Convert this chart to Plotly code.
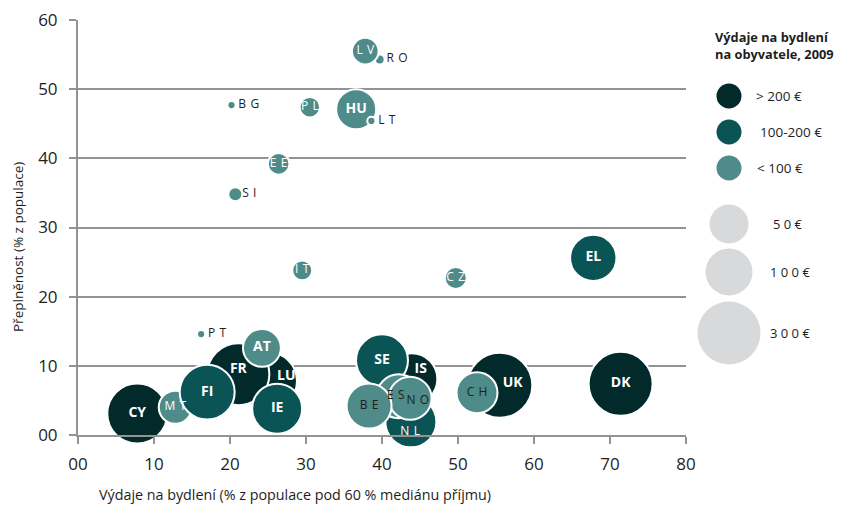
import plotly.graph_objects as go

# ---------------- data ----------------
zeme = ["RO", "LV", "BG", "PL", "HU", "LT", "EE", "SI", "IT", "CZ", "EL", "PT",
        "CY", "LU", "FR", "MT", "FI", "AT", "IE", "IS", "SE", "NL", "ES", "NO",
        "BE", "UK", "CH", "DK"]
vydaje_pod60 = [39.7, 37.8, 20.2, 30.5, 36.6, 38.6, 26.4, 20.7, 29.5, 49.7, 67.8, 16.2,
                7.8, 25.0, 21.1, 12.8, 17.0, 24.2, 26.2, 43.9, 40.0, 43.8, 42.2, 43.7,
                38.3, 55.5, 52.5, 71.4]
preplnenost = [54.3, 55.5, 47.7, 47.4, 47.1, 45.4, 39.2, 34.8, 23.8, 22.7, 25.6, 14.6,
               3.1, 7.8, 8.8, 4.0, 6.2, 12.6, 3.8, 8.1, 10.8, 1.9, 5.6, 5.3,
               4.2, 7.2, 6.1, 7.4]
vydaje_eur = [0.3, 12, 0.15, 4.5, 55, 0.15, 5.5, 1.1, 4.1, 5.9, 95, 0.15,
              249, 219, 282, 27, 180, 45, 126, 140, 146, 136, 78, 72,
              85, 336, 60, 317]
kategorie = ["<100", "<100", "<100", "<100", "<100", "<100", "<100", "<100", "<100", "<100", "100-200", "<100",
             ">200", ">200", ">200", "<100", "100-200", "<100", "100-200", ">200", "100-200", "100-200", "<100", "<100",
             "<100", ">200", "<100", ">200"]

kat_popisky = ["> 200 €", "100-200 €", "< 100 €"]
kat_klice = [">200", "100-200", "<100"]
velikost_legenda = [50, 100, 300]
velikost_popisky = ["5 0 €", "1 0 0 €", "3 0 0 €"]

x_ticks = [0, 10, 20, 30, 40, 50, 60, 70, 80]
x_ticktext = ["00", "10", "20", "30", "40", "50", "60", "70", "80"]
y_ticks = [0, 10, 20, 30, 40, 50, 60]
y_ticktext = ["00", "10", "20", "30", "40", "50", "60"]

# ---------------- style ----------------
W, H = 851, 505
ML, MR, MT, MB = 78, 0, 20, 70
PW, PH = W - ML - MR, H - MT - MB
MAIN_RIGHT = 686

BARVY = {">200": "#032a2b", "100-200": "#0b5456", "<100": "#4f8b89"}
SEDA = "#c8c9cb"
OSA = "#939393"
TEXT = "#1e1e1e"
FONT = "Open Sans"
SP = " \u200a"  # letter spacing used for the spaced country codes

BOLD = {"EL", "CY", "LU", "FR", "FI", "AT", "IE", "IS", "SE", "UK", "DK", "HU"}
SPACED_WHITE = {"LV", "PL", "EE", "IT", "CZ", "MT", "NL"}
SPACED_DARK = {"BE", "ES", "NO", "CH"}
OUTSIDE = {"RO", "BG", "LT", "SI", "PT"}
# label nudges (data units) for bubbles partly covered by neighbours
LABEL_OFFSET = {"LU": (2.4, 0.6), "IS": (1.2, 1.3), "FR": (0.0, 0.6), "NL": (-0.1, -1.5),
                "UK": (1.7, 0.3), "ES": (-0.4, 0.0), "NO": (1.0, -0.4)}


def diam(v):
    # size scale matched to the size legend (50 € / 100 € / 300 €)
    return 13.67 * v ** 0.268


def px_x(p):
    return (p - ML) / PW


def px_y(p):
    return (H - MB - p) / PH


fig = go.Figure()

# bubbles
fig.add_trace(go.Scatter(
    x=vydaje_pod60, y=preplnenost, mode="markers",
    marker=dict(size=[diam(v) for v in vydaje_eur],
                color=[BARVY[k] for k in kategorie],
                line=dict(color="white", width=2), opacity=1),
    cliponaxis=False, hoverinfo="text", text=zeme, showlegend=False))


def add_labels(codes_set, fmt, color, bold, size, pos="middle center"):
    xs, ys, ts = [], [], []
    for c, xv, yv in zip(zeme, vydaje_pod60, preplnenost):
        if c in codes_set:
            dx, dy = LABEL_OFFSET.get(c, (0, 0))
            xs.append(xv + dx)
            ys.append(yv + dy)
            t = SP.join(c) if fmt == "spaced" else c
            ts.append(f"<b>{t}</b>" if bold else t)
    fig.add_trace(go.Scatter(
        x=xs, y=ys, mode="text", text=ts, textposition=pos,
        textfont=dict(family=FONT, size=size, color=color),
        cliponaxis=False, hoverinfo="skip", showlegend=False))


add_labels(BOLD, "plain", "white", True, 14)
add_labels(SPACED_WHITE, "spaced", "white", False, 12)
add_labels(SPACED_DARK, "spaced", TEXT, False, 12)

# outside labels (right of the small bubbles)
xs, ys, ts = [], [], []
for c, xv, yv in zip(zeme, vydaje_pod60, preplnenost):
    if c in OUTSIDE:
        xs.append(xv + 0.9)
        ys.append(yv)
        ts.append(SP.join(c))
fig.add_trace(go.Scatter(x=xs, y=ys, mode="text", text=ts, textposition="middle right",
                         textfont=dict(family=FONT, size=12, color=TEXT),
                         cliponaxis=False, hoverinfo="skip", showlegend=False))

# ---------------- legend (own axes, pixel units) ----------------
LEG_X = 729
LEG_COLOR_Y = [96, 132, 168]
LEG_SIZE_Y = [224, 272, 333]
fig.add_trace(go.Scatter(
    x=[LEG_X] * 3, y=LEG_COLOR_Y, xaxis="x2", yaxis="y2", mode="markers",
    marker=dict(size=25, color=[BARVY[k] for k in kat_klice], line=dict(width=0)),
    cliponaxis=False, hoverinfo="skip", showlegend=False))
fig.add_trace(go.Scatter(
    x=[LEG_X] * 3, y=LEG_SIZE_Y, xaxis="x2", yaxis="y2", mode="markers",
    marker=dict(size=[diam(v) for v in velikost_legenda], color=SEDA, line=dict(width=0)),
    cliponaxis=False, hoverinfo="skip", showlegend=False))

ann = []
for lab, yv, xl in zip(kat_popisky, LEG_COLOR_Y, [754, 758, 755]):
    ann.append(dict(x=xl, y=yv, xref="x2", yref="y2", text=lab, showarrow=False,
                    xanchor="left", yanchor="middle",
                    font=dict(family=FONT, size=13.5, color=TEXT)))
for lab, yv, xl in zip(velikost_popisky, LEG_SIZE_Y, [771, 768, 768]):
    ann.append(dict(x=xl, y=yv, xref="x2", yref="y2", text=lab, showarrow=False,
                    xanchor="left", yanchor="middle",
                    font=dict(family=FONT, size=13, color=TEXT)))
ann.append(dict(x=713, y=45, xref="x2", yref="y2",
                text="<b>Výdaje na bydlení<br>na obyvatele, 2009</b>", showarrow=False,
                xanchor="left", yanchor="middle", align="left",
                font=dict(family=FONT, size=12.8, color=TEXT)))

# axis titles
ann.append(dict(x=px_x(295), y=px_y(494), xref="paper", yref="paper",
                text="Výdaje na bydlení (% z populace pod 60 % mediánu příjmu)",
                showarrow=False, xanchor="center", yanchor="middle",
                font=dict(family=FONT, size=14.3, color=TEXT)))
ann.append(dict(x=px_x(18), y=px_y(247), xref="paper", yref="paper",
                text="Přeplněnost (% z populace)", textangle=-90,
                showarrow=False, xanchor="center", yanchor="middle",
                font=dict(family=FONT, size=13.5, color=TEXT)))

fig.update_layout(
    width=W, height=H,
    margin=dict(l=ML, r=MR, t=MT, b=MB, pad=0),
    paper_bgcolor="white", plot_bgcolor="white",
    font=dict(family=FONT, color=TEXT),
    annotations=ann,
    xaxis=dict(domain=[0, (MAIN_RIGHT - ML) / PW], range=[0, 80], automargin=False,
               tickvals=x_ticks, ticktext=x_ticktext,
               showgrid=False, zeroline=False, showline=True,
               linecolor=OSA, linewidth=2, ticks="outside", ticklen=7,
               tickcolor=OSA, tickwidth=2, ticklabelstandoff=6,
               tickfont=dict(family=FONT, size=17, color=TEXT)),
    yaxis=dict(range=[0, 60], tickvals=y_ticks, ticktext=y_ticktext, automargin=False,
               showgrid=True, gridcolor=OSA, gridwidth=2, zeroline=False,
               showline=True, linecolor=OSA, linewidth=2, ticks="outside",
               ticklen=7, tickcolor=OSA, tickwidth=2, ticklabelstandoff=8,
               tickfont=dict(family=FONT, size=17, color=TEXT)),
    xaxis2=dict(domain=[(700 - ML) / PW, 1], range=[700, W], visible=False, anchor="y2",
                automargin=False),
    yaxis2=dict(domain=[0, 1], range=[H - MB, MT], visible=False, anchor="x2",
                automargin=False),
)

fig.write_html("out.html", config={"displayModeBar": False},
               post_script="document.body.style.margin='0';document.body.style.overflow='hidden';")
